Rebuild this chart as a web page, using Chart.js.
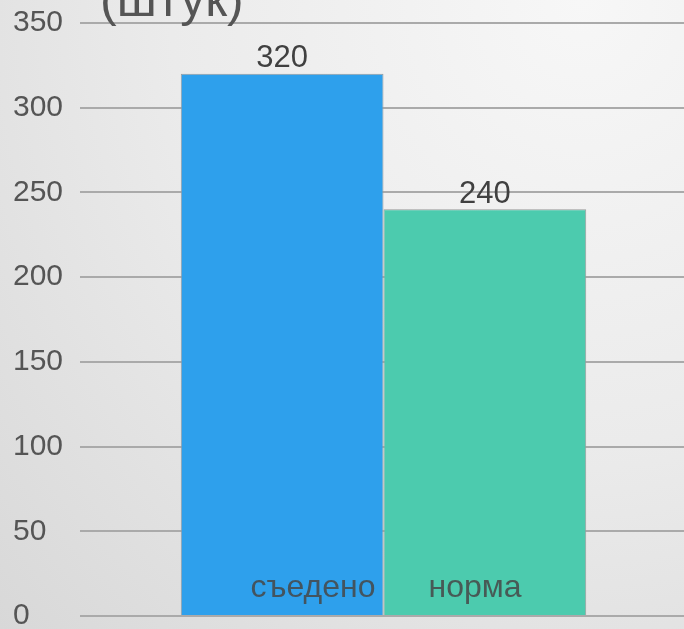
<!DOCTYPE html>
<html>
<head>
<meta charset="utf-8">
<script src="https://cdn.jsdelivr.net/npm/chart.js@4/dist/chart.umd.min.js"></script>
<style>
    html, body { margin: 0; padding: 0; }
    body {
        width: 684px; height: 629px; overflow: hidden; position: relative;
        background: radial-gradient(ellipse at 85% 0%, #f7f7f7 0%, #ebebeb 50%, #d8d8d8 100%);
    }
    #wrap { width: 687px; height: 643px; position: absolute; left: 0; top: -2px; }
</style>
</head>
<body>
<div id="wrap"><canvas id="chart"></canvas></div>
<script>
// --- данные ---
const seriesNames = ['съедено', 'норма'];
const seriesValues = [320, 240];
const seriesColors = ['#2ea0ec', '#4ccbae'];
const yTicks = [0, 50, 100, 150, 200, 250, 300, 350];
const chartTitle = '(штук)';

const FONT = "'Liberation Sans', Arial, sans-serif";

// подписи: заголовок, значения над столбцами, названия внутри столбцов
const labelsPlugin = {
    id: 'labels',
    afterDatasetsDraw(chart) {
        const ctx = chart.ctx;
        ctx.save();

        ctx.fillStyle = '#555555';
        ctx.font = `50px ${FONT}`;
        ctx.textAlign = 'left';
        ctx.textBaseline = 'alphabetic';
        ctx.fillText(chartTitle, 100, 18);

        chart.data.datasets.forEach((ds, i) => {
            const bar = chart.getDatasetMeta(i).data[0];
            const half = bar.width / 2;

            ctx.fillStyle = '#404040';
            ctx.font = `31px ${FONT}`;
            ctx.textAlign = 'center';
            ctx.textBaseline = 'middle';
            ctx.fillText(ds.data[0], bar.x, bar.y - 15);

            ctx.fillStyle = 'rgba(70,70,70,0.85)';
            ctx.font = `32px ${FONT}`;
            ctx.textBaseline = 'alphabetic';
            if (i === 0) {
                ctx.textAlign = 'right';
                ctx.fillText(ds.label, bar.x + half - 8, bar.base - 18);
            } else {
                ctx.textAlign = 'left';
                ctx.fillText(ds.label, bar.x - half + 45, bar.base - 18);
            }
        });
        ctx.restore();
    }
};

new Chart(document.getElementById('chart'), {
    type: 'bar',
    data: {
        labels: [''],
        datasets: seriesNames.map((name, i) => ({
            label: name,
            data: [seriesValues[i]],
            backgroundColor: seriesColors[i],
            borderColor: '#9a9a9a',
            borderWidth: 1
        }))
    },
    options: {
        responsive: true,
        maintainAspectRatio: false,
        animation: false,
        layout: { padding: { left: 13, top: 22, right: 0, bottom: 14 } },
        plugins: { legend: { display: false }, tooltip: { enabled: false } },
        datasets: { bar: { categoryPercentage: 0.668, barPercentage: 1 } },
        scales: {
            x: { display: false },
            y: {
                min: yTicks[0],
                max: yTicks[yTicks.length - 1],
                afterBuildTicks(scale) { scale.ticks = yTicks.map(v => ({ value: v })); },
                afterFit(scale) { scale.width = 67; },
                border: { display: false },
                grid: { color: '#aaaaaa', lineWidth: 2, drawTicks: false },
                ticks: {
                    crossAlign: 'far',
                    color: '#555555',
                    font: { family: FONT, size: 30, lineHeight: 1 },
                    padding: 10
                }
            }
        }
    },
    plugins: [labelsPlugin]
});
</script>
</body>
</html>
